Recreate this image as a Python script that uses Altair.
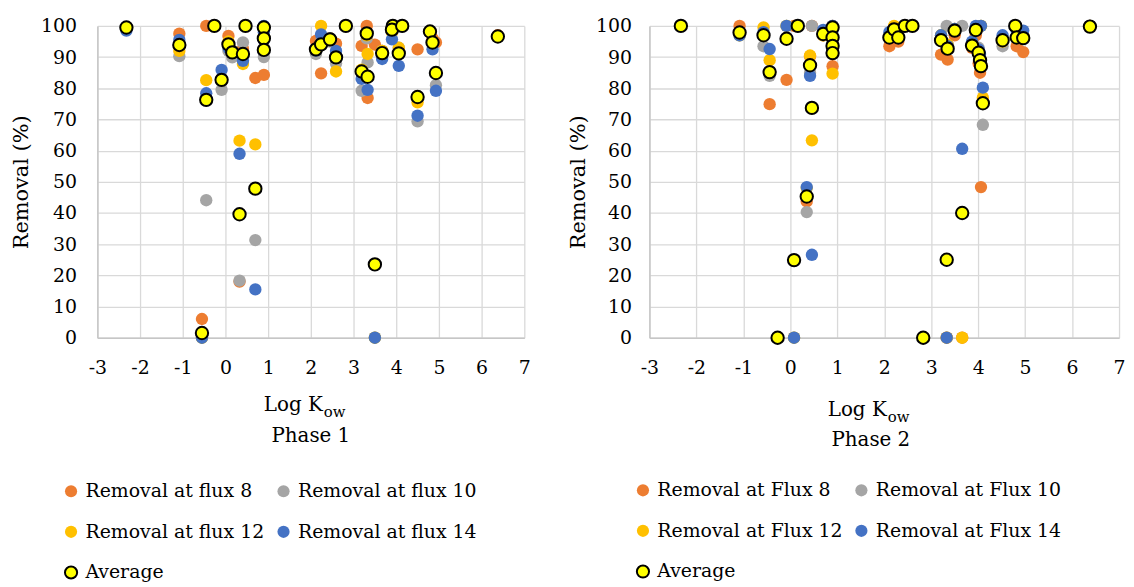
import altair as alt
import pandas as pd

FONT = "DejaVu Serif"

# ---------------- Phase 1 ----------------
p1_kow = [-2.32, -1.08, -0.55, -0.45, -0.26, -0.09, 0.07, 0.16, 0.33, 0.41,
          0.47, 0.70, 0.90, 0.90, 0.90, 2.12, 2.24, 2.45, 2.59, 2.82,
          3.19, 3.31, 3.33, 3.50, 3.67, 3.92, 3.90, 4.14, 4.06, 4.50,
          4.79, 4.85, 4.93, 6.38]
p1_flux8 = [99, 97.5, 6, 100, 100, 83, 96.8, 92, 18, 92.7,
            100, 83.3, 99, 96, 84.3, 95.2, 84.8, 96, 94.3, 100,
            93.6, 100, 76.9, 94, 92, 100, 99, 100, 92, 92.5,
            98, 96, 94.7, 97]
p1_flux10 = [99, 90.3, 0, 44.1, 100, 79.5, 92, 89.9, 18.3, 94.7,
             100, 31.3, 99.5, 96, 90, 91, 95, 95, 88, 100,
             79.2, 96, 88.3, 0, 92, 100, 99.5, 100, 93, 69.4,
             98, 95, 81, 96.5]
p1_flux12 = [99, 92, 0, 82.6, 100, 82.5, 95, 92, 63.2, 87.8,
             100, 62, 99.5, 96.5, 97, 92, 100, 96, 85.4, 100,
             86, 97, 91, 0, 92, 100, 98, 100, 93, 75.5,
             98, 95, 84.7, 96.5]
p1_flux14 = [98.5, 95.5, 0, 78.4, 100, 85.9, 93, 92, 59, 88.8,
             100, 15.5, 100, 95.5, 98, 92, 97.3, 96, 92, 100,
             83, 97.5, 79.5, 0, 89.4, 100, 95.7, 100, 87.2, 71.2,
             98, 92.5, 79.2, 96.5]
p1_avg = [99.5, 93.9, 1.5, 76.3, 100, 82.7, 94.1, 91.5, 39.6, 91,
          100, 47.8, 99.5, 96, 92.3, 92.5, 94.1, 95.7, 89.9, 100,
          85.4, 97.6, 83.7, 23.5, 91.3, 100, 98.8, 100, 91.2, 77.2,
          98.2, 94.7, 84.9, 96.6]
p1_labels = ["Removal at flux 8", "Removal at flux 10", "Removal at flux 12",
             "Removal at flux 14", "Average"]

# ---------------- Phase 2 ----------------
p2_kow = [-2.33, -1.08, -0.57, -0.44, -0.27, -0.08, 0.08, 0.16, 0.35, 0.42,
          0.70, 0.46, 0.90, 0.90, 0.90, 0.90, 2.11, 2.21, 2.30, 2.44,
          2.60, 2.83, 3.21, 3.35, 3.33, 3.50, 3.66, 3.95, 3.87, 4.01,
          4.04, 4.06, 4.10, 4.52, 4.79, 4.82, 4.96, 6.38]
p2_flux8 = [100, 100, 97, 74.9, 0, 82.7, 100, 100, 43.7, 90.3,
            97, 100, 100, 96, 92, 87.1, 93.5, 97, 95, 100,
            100, 0, 90.8, 89.2, 0, 97, 0, 97, 93, 88,
            85, 48.3, 76, 96, 100, 93.5, 91.6, 100]
p2_flux10 = [100, 97, 93.5, 84, 0, 100, 0, 100, 40.3, 85,
             97, 100, 100, 96, 94, 95, 97, 99, 96, 100,
             100, 0, 97, 94, 100, 99, 100, 99, 94, 93,
             90, 100, 68.3, 93.5, 100, 97, 97, 100]
p2_flux12 = [100, 97, 99.5, 89, 0, 100, 0, 100, 48, 90.5,
             97, 63.3, 99, 97, 94, 84.7, 97, 100, 97, 100,
             100, 0, 97, 94, 0, 99, 0, 99, 94, 92,
             90, 100, 77, 95, 100, 96, 97, 100]
p2_flux14 = [100, 97, 98, 92.6, 0, 100, 0, 100, 48.3, 84,
             98.7, 26.6, 100, 96, 94, 98.5, 98, 99, 97, 100,
             100, 0, 97, 93.5, 0, 99, 60.6, 100, 95, 92.5,
             91, 100, 80.2, 97, 100, 98.5, 98.5, 100]
p2_avg = [100, 97.9, 97, 85.2, 0, 95.9, 24.9, 100, 45.3, 87.4,
          97.4, 73.7, 99.5, 96.3, 93.6, 91.3, 96.3, 98.9, 96.3, 100,
          100, 0, 95.4, 92.7, 25, 98.5, 40, 98.7, 93.7, 91.4,
          89, 87.1, 75.2, 95.4, 100, 96.3, 96.1, 99.8]
p2_labels = ["Removal at Flux 8", "Removal at Flux 10", "Removal at Flux 12",
             "Removal at Flux 14", "Average"]

x_ticks = [-3, -2, -1, 0, 1, 2, 3, 4, 5, 6, 7]
y_ticks = [0, 10, 20, 30, 40, 50, 60, 70, 80, 90, 100]

FILLS = ["#ED7D31", "#A5A5A5", "#FFC000", "#4472C4", "#FFFF00"]
STROKES = ["transparent", "transparent", "transparent", "transparent", "#000000"]

H = 314


def long_table(kow, series, labels):
    rows = []
    for lab, vals in zip(labels, series):
        for k, v in zip(kow, vals):
            rows.append({"kow": k, "removal": v, "series": lab})
    return pd.DataFrame(rows)


def text_layer(txt, x, y, size, align):
    return alt.Chart(pd.DataFrame({"t": [txt]})).mark_text(
        font=FONT, fontSize=size, align=align, baseline="alphabetic", color="black"
    ).encode(text="t:N", x=alt.value(x), y=alt.value(y))


def panel(df, labels, width, ytitle_x, ylab_pad, leg_x, leg_y, col_pad, texts):
    legend = alt.Legend(
        orient="none", legendX=leg_x, legendY=leg_y, columns=2, direction="horizontal",
        title=None,
        labelFont=FONT, labelFontSize=19, labelColor="black", labelLimit=500,
        labelOffset=5, symbolType="circle", symbolSize=150, symbolStrokeWidth=2,
        symbolOpacity=1, rowPadding=20, columnPadding=col_pad, padding=0,
    )
    pts = alt.Chart(df).mark_circle(size=155, opacity=1, strokeWidth=2).encode(
        x=alt.X("kow:Q",
                scale=alt.Scale(domain=[-3, 7], nice=False, zero=False),
                axis=alt.Axis(values=x_ticks, title=None, grid=True, ticks=False,
                              gridColor="#D9D9D9", gridWidth=1.3,
                              domainColor="#C6C6C6", domainWidth=1.5,
                              labelFont=FONT, labelFontSize=19, labelColor="black",
                              labelPadding=21, labelFlush=False,
                              labelExpr="replace(datum.label, '\u2212', '-')")),
        y=alt.Y("removal:Q",
                scale=alt.Scale(domain=[0, 100], nice=False),
                axis=alt.Axis(values=y_ticks, title="Removal (%)", grid=True, ticks=False,
                              gridColor="#D9D9D9", gridWidth=1.3,
                              domainColor="#C6C6C6", domainWidth=1.5,
                              labelFont=FONT, labelFontSize=19, labelColor="black",
                              labelPadding=ylab_pad, labelFlush=False,
                              titleFont=FONT, titleFontSize=21, titleFontWeight="normal",
                              titleColor="black", titleX=ytitle_x, titleY=H / 2,
                              titleBaseline="middle")),
        fill=alt.Fill("series:N", scale=alt.Scale(domain=labels, range=FILLS), legend=legend),
        stroke=alt.Stroke("series:N", scale=alt.Scale(domain=labels, range=STROKES), legend=legend),
    )
    layers = [pts] + [text_layer(*t) for t in texts]
    return alt.layer(*layers).properties(width=width, height=H)


left = panel(
    long_table(p1_kow, [p1_flux8, p1_flux10, p1_flux12, p1_flux14, p1_avg], p1_labels),
    p1_labels, 430, -76, 21, -36, 459, 8,
    [("Log K", 227, 388, 20, "right"), ("ow", 228, 394, 15, "left"),
     ("Phase 1", 215, 419, 20, "center")],
)
right = panel(
    long_table(p2_kow, [p2_flux8, p2_flux10, p2_flux12, p2_flux14, p2_avg], p2_labels),
    p2_labels, 473, -71, 18, -16, 458, 8,
    [("Log K", 239, 393, 20, "right"), ("ow", 240, 399, 15, "left"),
     ("Phase 2", 223, 423, 20, "center")],
)

chart = alt.hconcat(left, right, spacing=126, bounds="flush").resolve_scale(
    x="independent", y="independent", fill="independent", stroke="independent"
).resolve_legend(fill="independent", stroke="independent").properties(
    padding={"left": 3, "top": 5, "right": 0, "bottom": 0}
).configure(font=FONT).configure_view(stroke=None)

chart.save("out.html", embed_options={"renderer": "svg", "actions": False})
